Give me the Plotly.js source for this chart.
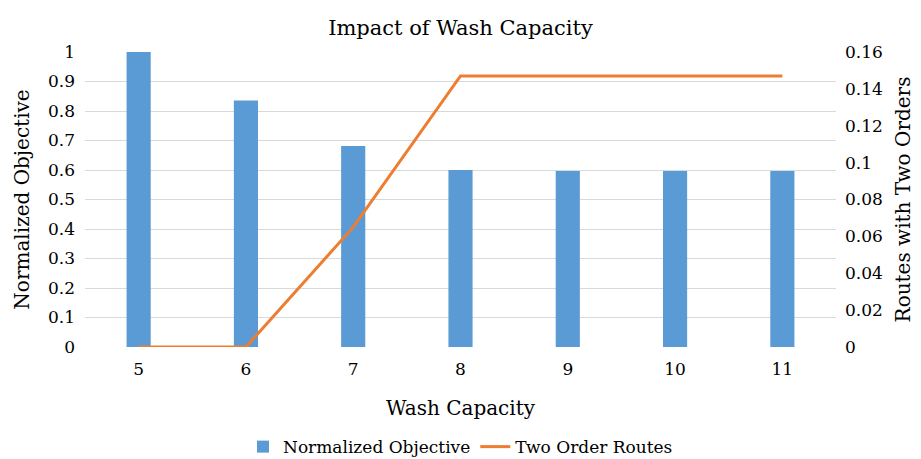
<!DOCTYPE html>
<html>
<head>
<meta charset="utf-8">
<script src="https://cdn.plot.ly/plotly-3.0.1.min.js"></script>
<style>html,body{margin:0;padding:0;background:#fff;}#chart{width:921px;height:459px;}</style>
</head>
<body>
<div id="chart"></div>
<script>
const categories = ['5', '6', '7', '8', '9', '10', '11'];
const normalizedObjective = [1.0, 0.836, 0.681, 0.600, 0.597, 0.597, 0.597];
const twoOrderRoutes = [0, 0, 0.065, 0.147, 0.147, 0.147, 0.147];
const leftTicks = [0, 0.1, 0.2, 0.3, 0.4, 0.5, 0.6, 0.7, 0.8, 0.9, 1];
const leftTickText = ['0', '0.1', '0.2', '0.3', '0.4', '0.5', '0.6', '0.7', '0.8', '0.9', '1'];
const rightTicks = [0, 0.02, 0.04, 0.06, 0.08, 0.1, 0.12, 0.14, 0.16];
const rightTickText = ['0', '0.02', '0.04', '0.06', '0.08', '0.1', '0.12', '0.14', '0.16'];

const font = 'DejaVu Serif';
const data = [
  {type: 'bar', x: categories, y: normalizedObjective, name: 'Normalized Objective',
   marker: {color: '#5b9bd5'}, yaxis: 'y'},
  {type: 'scatter', mode: 'lines', x: categories, y: twoOrderRoutes, name: 'Two Order Routes',
   line: {color: '#ed7d31', width: 3}, yaxis: 'y2'}
];
const layout = {
  width: 921, height: 459,
  margin: {l: 85, r: 85, t: 52, b: 112, autoexpand: false},
  paper_bgcolor: '#fff', plot_bgcolor: '#fff',
  font: {family: font, color: '#000', size: 17},
  title: {text: 'Impact of Wash Capacity', font: {size: 21, family: font, color: '#000'}, x: 0.5, xanchor: 'center', y: 0.94, yanchor: 'middle'},
  bargap: 0.775,
  showlegend: true,
  legend: {orientation: 'h', x: 0.5, xanchor: 'center', yref: 'container', y: 0.026, yanchor: 'middle', font: {size: 17, family: font}},
  xaxis: {type: 'category', title: {text: 'Wash Capacity', font: {size: 20}, standoff: 22},
    showgrid: false, zeroline: false, showline: false, ticks: '', tickfont: {size: 17}, ticklabelstandoff: 10},
  yaxis: {range: [0, 1], tickvals: leftTicks, ticktext: leftTickText, showgrid: true, gridcolor: '#d9d9d9',
    zeroline: false, showline: false, ticks: '', tickfont: {size: 17}, ticklabelstandoff: 9,
    title: {text: 'Normalized Objective', font: {size: 20}, standoff: 12}},
  yaxis2: {range: [0, 0.16], tickvals: rightTicks, ticktext: rightTickText, overlaying: 'y', side: 'right',
    showgrid: false, zeroline: false, showline: false, ticks: '', tickfont: {size: 17}, ticklabelstandoff: 8,
    title: {text: 'Routes with Two Orders', font: {size: 20}, standoff: 14}}
};
Plotly.newPlot('chart', data, layout, {displayModeBar: false, staticPlot: true});
</script>
</body>
</html>
